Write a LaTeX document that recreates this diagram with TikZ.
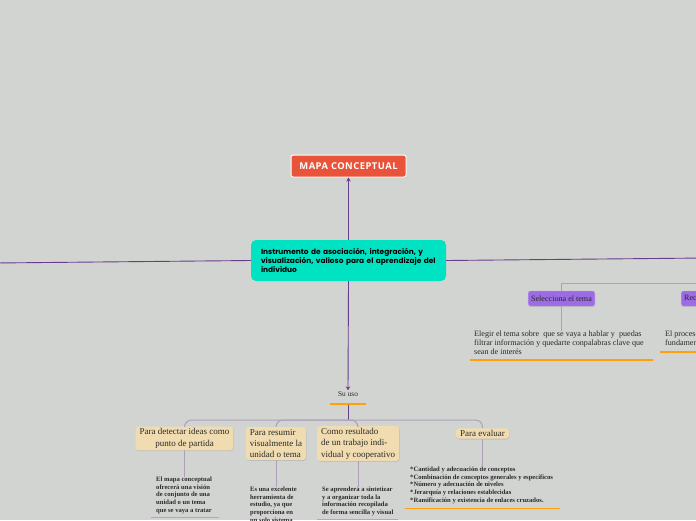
\documentclass[tikz,border=0pt]{standalone}
\usepackage{fontspec}
\setmainfont{Liberation Serif}
\newfontfamily\popfont{Poppins}
\newfontfamily\headfont[LetterSpace=5]{Open Sans}
\usetikzlibrary{arrows.meta,shadows}
\definecolor{bg}{HTML}{D2D4D1}
\definecolor{redbox}{HTML}{E9533A}
\definecolor{cyanbox}{HTML}{00E3C3}
\definecolor{mainline}{HTML}{6A3D8C}
\definecolor{branchline}{HTML}{ADA0B8}
\definecolor{purplebox}{HTML}{9B6CE3}
\definecolor{tanbox}{HTML}{F0DCB0}
\definecolor{orangeline}{HTML}{FFA10A}
\definecolor{txt}{HTML}{2A2A2A}
\tikzset{
  shade/.style={drop shadow={opacity=0.25,shadow xshift=0.6pt,shadow yshift=-0.9pt}},
  titlebox/.style={fill=redbox,draw=white,line width=1pt,rounded corners=2pt,shade,
    text=white,font=\headfont\bfseries\fontsize{9.4}{10}\selectfont,
    minimum width=115pt,minimum height=22pt,inner sep=0pt},
  centralbox/.style={fill=cyanbox,rounded corners=5pt,
    minimum width=195pt,minimum height=41pt,inner sep=0pt,
    text width=175pt,align=left,font=\popfont\bfseries\fontsize{7.4}{8.6}\selectfont},
  tanstyle/.style={fill=tanbox,rounded corners=3pt,shade,inner xsep=4pt,inner ysep=2pt,
    font=\fontsize{9}{11.4}\selectfont,text=txt},
  purplestyle/.style={fill=purplebox,draw=purplebox!60!white,rounded corners=2pt,shade,
    minimum height=15pt,inner xsep=3pt,inner ysep=0pt,
    font=\fontsize{8.1}{9}\selectfont,text=txt},
  smalltext/.style={anchor=north west,inner sep=0pt,align=left,text=txt,
    font=\bfseries\fontsize{6.6}{7.6}\selectfont},
  midtext/.style={anchor=north west,inner sep=0pt,align=left,text=txt,
    font=\fontsize{8.1}{8.6}\selectfont},
  mainconn/.style={draw=mainline,line width=0.9pt},
  arrowconn/.style={mainconn,-{Stealth[length=4pt,width=4.5pt]}},
  branch/.style={draw=branchline,line width=1pt,rounded corners=7pt},
  underl/.style={draw=orangeline,line width=1.6pt},
}
\begin{document}
\begin{tikzpicture}[x=1pt,y=-1pt]
\fill[bg] (0,0) rectangle (696,520);
\clip (0,0) rectangle (696,520);

% title and central node
\node[titlebox] (title) at (348.5,166) {MAPA CONCEPTUAL};
\node[centralbox] (cen) at (348.5,260.5) {Instrumento de asociación, integración, y\\visualización, valioso para el aprendizaje del\\individuo};

\coordinate (lefthub) at (-5,263);
\coordinate (righthub) at (705,258);
\draw[mainconn] (cen.west) -- (lefthub);
\draw[mainconn] (cen.east) -- (righthub);
\draw[arrowconn] (cen.north) -- (title.south);

% Su uso
\node[font=\fontsize{7.4}{9}\selectfont,text=txt,inner sep=1pt] (uso) at (348,394) {Su uso};
\coordinate (usoL) at (330,404);
\coordinate (usoR) at (366,404);
\draw[arrowconn] (cen.south) -- (uso.north);
\draw[underl] (usoL) -- (usoR);
\coordinate (usobot) at (348,405);
\coordinate (hub) at (348,420);

\node[tanstyle,align=center] (b1) at (184.5,438.5) {Para detectar ideas como\\punto de partida};
\node[tanstyle,align=left] (b2) at (276,443.5) {Para resumir\\visualmente la\\unidad o tema};
\node[tanstyle,align=left] (b3) at (358,443.5) {Como resultado\\de un trabajo indi-\\vidual y cooperativo};
\node[tanstyle,align=left] (b4) at (482.5,433.5) {Para evaluar};

\draw[mainconn,line width=1pt] (usobot) -- (hub);
\draw[branch] (hub) -| (b1.north);
\draw[branch] (hub) -| (b2.north);
\draw[branch] (hub) -| (b3.north);
\draw[branch] (hub) -| (b4.north);

\node[smalltext] (t1) at (156,477) {El mapa conceptual\\ofrecerá una visión\\de conjunto de una\\unidad o un tema\\que se vaya a tratar};
\node[smalltext] (t2) at (250,487) {Es una excelente\\herramienta de\\estudio, ya que\\proporciona en\\un solo sistema};
\node[smalltext] (t3) at (322,487) {Se aprenderá a sintetizar\\y a organizar toda la\\información recopilada\\de forma sencilla y visual};
\node[smalltext] (t4) at (410,467) {*Cantidad y adecuación de conceptos\\*Combinación de conceptos generales y específicos\\*Número y adecuación de niveles\\*Jerarquía y relaciones establecidas\\*Ramificación y existencia de enlaces cruzados.};

\draw[branch] (b1.south) -- (b1.south |- t1.north);
\draw[branch] (b2.south) -- (b2.south |- t2.north);
\draw[branch] (b3.south) -- (b3.south |- t3.north);
\draw[branch] (b4.south) -- (b4.south |- t4.north);

\coordinate (u1L) at (151,517.5);
\coordinate (u1R) at (219,517.5);
\coordinate (u3L) at (317,519.5);
\coordinate (u3R) at (398,519.5);
\coordinate (u4L) at (405,508.5);
\coordinate (u4R) at (560,508.5);
\draw[underl] (u1L) -- (u1R);
\draw[underl] (u3L) -- (u3R);
\draw[underl] (u4L) -- (u4R);

% right branch
\coordinate (rhub) at (720,283);
\node[purplestyle] (sel) at (561.5,298.5) {Selecciona el tema};
\node[purplestyle,anchor=west,text width=60pt,align=left] (rec) at (681,298.5) {Recopila};
\draw[branch,rounded corners=0pt] (rhub) -| (sel.north);
\node[midtext] (t5) at (474,331) {Elegir el tema sobre\ \ que se vaya a hablar y\ \ puedas\\filtrar información y quedarte conpalabras clave que\\sean de interés};
\node[midtext] (t6) at (665,331) {El proceso es\\fundamental};
\draw[branch,rounded corners=0pt] (sel.south) -- (sel.south |- t5.north);
\coordinate (u5L) at (470,360);
\coordinate (u5R) at (653,360);
\coordinate (u6L) at (660,352);
\coordinate (u6R) at (720,352);
\draw[underl] (u5L) -- (u5R);
\draw[underl] (u6L) -- (u6R);
\end{tikzpicture}
\end{document}
